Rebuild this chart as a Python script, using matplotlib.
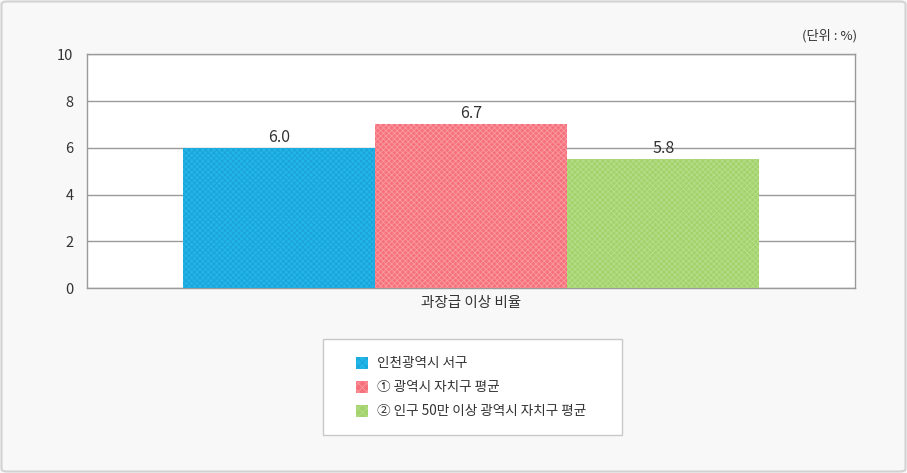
import numpy as np
import matplotlib
matplotlib.use("Agg")
import matplotlib.pyplot as plt
from matplotlib.patches import Rectangle, FancyBboxPatch

plt.rcParams['font.family'] = ['Noto Sans CJK KR', 'DejaVu Sans']
plt.rcParams['hatch.linewidth'] = 0.6

# data
series = ["인천광역시 서구", "① 광역시 자치구 평균", "② 인구 50만 이상 광역시 자치구 평균"]
bar_heights = [6.0, 7.0, 5.5]
value_labels = ["6.0", "6.7", "5.8"]
category = "과장급 이상 비율"
yticks = [0, 2, 4, 6, 8, 10]

face_colors = ["#22b6e8", "#f5727c", "#a3d36b"]
hatch_colors = ["#1ba0d8", "#fb9aa0", "#b8de8c"]
text_col = "#333333"
grid_col = "#9a9a9a"

W, H = 907, 473
fig = plt.figure(figsize=(W / 100, H / 100), dpi=100)
fig.patch.set_facecolor("#f8f8f8")

# outer frame
fig.add_artist(FancyBboxPatch((1.5 / W, 1.5 / H), (W - 3) / W, (H - 3) / H,
                              boxstyle="round,pad=0,rounding_size=0.006",
                              transform=fig.transFigure, facecolor="none",
                              edgecolor="#d2d2d2", linewidth=1.5))

ax = fig.add_axes([87.3 / W, (H - 288) / H, 768 / W, 233.7 / H])
ax.set_facecolor("white")

xpos = np.arange(len(series)) - 1
bars = ax.bar(xpos, bar_heights, width=1.0, color=face_colors, hatch="xxxxxx",
              edgecolor=hatch_colors, linewidth=0, zorder=3)

for x, h, lab in zip(xpos, bar_heights, value_labels):
    ax.text(x, h + 0.45, lab, ha="center", va="center", fontsize=11.5,
            color=text_col, zorder=4)

ax.set_xlim(-2, 2)
ax.set_ylim(0, 10)
ax.set_yticks(yticks)
ax.set_yticklabels([str(t) for t in yticks], fontsize=10.5, color=text_col)
ax.set_xticks([0])
ax.set_xticklabels([category], fontsize=10.5, color=text_col)
ax.tick_params(axis="y", length=0, pad=10)
ax.tick_params(axis="x", length=0, pad=6)
ax.grid(axis="y", color=grid_col, linewidth=1, zorder=1)
for s in ax.spines.values():
    s.set_color(grid_col)
    s.set_linewidth(1)

fig.text(857 / W, 1 - 36 / H, "(단위 : %)", ha="right", va="center",
         fontsize=9.5, color=text_col)

# legend box
fig.add_artist(Rectangle((322.7 / W, 1 - 435.3 / H), 299 / W, 96 / H,
                         transform=fig.transFigure, facecolor="white",
                         edgecolor="#c8c8c8", linewidth=1))
row_y = [363.3, 387.3, 410.7]
for lab, fc, hc, ry in zip(series, face_colors, hatch_colors, row_y):
    fig.add_artist(Rectangle((356 / W, 1 - (ry + 6) / H), 12 / W, 12 / H,
                             transform=fig.transFigure, facecolor=fc,
                             hatch="xxxx", edgecolor=hc, linewidth=0))
    fig.text(376.7 / W, 1 - ry / H, lab, ha="left", va="center",
             fontsize=9.8, color=text_col)

fig.savefig("out.png", dpi=100, facecolor=fig.get_facecolor())
